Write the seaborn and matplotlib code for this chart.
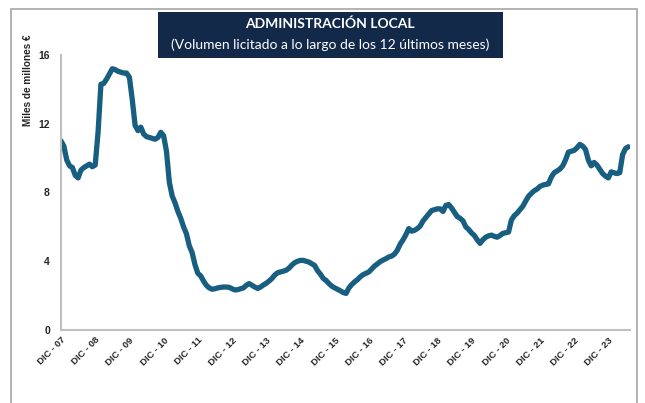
import matplotlib
matplotlib.use("Agg")
import matplotlib.pyplot as plt
import matplotlib.patches as mpatches
import seaborn as sns
import pandas as pd
import numpy as np

# Monthly values (Dec 2007 .. Jul 2024), thousands of millions of euros
values_2008 = [11.0, 10.7, 9.9, 9.55, 9.45, 9.0, 8.85, 9.3, 9.45, 9.55, 9.65, 9.5]
values_2009 = [9.6, 11.5, 14.3, 14.35, 14.6, 14.9, 15.2, 15.15, 15.05, 15.0, 14.95, 14.95]
values_2010 = [14.7, 13.4, 11.9, 11.6, 11.8, 11.4, 11.25, 11.2, 11.15, 11.1, 11.2, 11.5]
values_2011 = [11.3, 10.4, 8.6, 7.8, 7.4, 6.9, 6.5, 6.0, 5.6, 4.9, 4.5, 3.8]
values_2012 = [3.3, 3.15, 2.85, 2.6, 2.45, 2.37, 2.4, 2.45, 2.48, 2.5, 2.5, 2.48]
values_2013 = [2.4, 2.33, 2.35, 2.4, 2.45, 2.6, 2.7, 2.6, 2.5, 2.42, 2.5, 2.62]
values_2014 = [2.72, 2.85, 3.0, 3.2, 3.33, 3.38, 3.42, 3.48, 3.6, 3.78, 3.92, 4.0]
values_2015 = [4.05, 4.05, 4.0, 3.95, 3.85, 3.75, 3.45, 3.25, 3.0, 2.88, 2.7, 2.55]
values_2016 = [2.45, 2.37, 2.28, 2.18, 2.13, 2.45, 2.65, 2.8, 2.93, 3.1, 3.22, 3.3]
values_2017 = [3.38, 3.55, 3.72, 3.85, 3.98, 4.07, 4.15, 4.25, 4.3, 4.42, 4.65, 5.0]
values_2018 = [5.25, 5.55, 5.9, 5.75, 5.8, 5.9, 6.05, 6.35, 6.55, 6.75, 6.95, 7.0]
values_2019 = [7.05, 7.05, 6.9, 7.25, 7.3, 7.1, 6.85, 6.6, 6.5, 6.35, 6.0, 5.85]
values_2020 = [5.65, 5.5, 5.25, 5.04, 5.25, 5.4, 5.48, 5.52, 5.45, 5.4, 5.5, 5.62]
values_2021 = [5.66, 5.7, 6.4, 6.65, 6.8, 7.0, 7.2, 7.5, 7.78, 7.95, 8.1, 8.2]
values_2022 = [8.35, 8.43, 8.47, 8.5, 8.9, 9.15, 9.25, 9.36, 9.55, 9.9, 10.35, 10.4]
values_2023 = [10.45, 10.6, 10.8, 10.7, 10.5, 9.88, 9.55, 9.75, 9.6, 9.35, 9.1, 8.95]
values_2024 = [8.85, 9.2, 9.15, 9.1, 9.15, 10.2, 10.55, 10.66]

tick_labels = ["DIC - 07", "DIC - 08", "DIC - 09", "DIC - 10", "DIC - 11", "DIC - 12",
               "DIC - 13", "DIC - 14", "DIC - 15", "DIC - 16", "DIC - 17", "DIC - 18",
               "DIC - 19", "DIC - 20", "DIC - 21", "DIC - 22", "DIC - 23"]
y_ticks = [0, 4, 8, 12, 16]

title = "ADMINISTRACIÓN LOCAL"
subtitle = "(Volumen licitado a lo largo de los 12 últimos meses)"
ylabel = "Miles de millones €"

values = (values_2008 + values_2009 + values_2010 + values_2011 + values_2012 +
          values_2013 + values_2014 + values_2015 + values_2016 + values_2017 +
          values_2018 + values_2019 + values_2020 + values_2021 + values_2022 +
          values_2023 + values_2024)
df = pd.DataFrame({"mes": np.arange(len(values)), "valor": values})

sns.set_theme(style="white")
plt.rcParams["font.family"] = ["Liberation Sans", "DejaVu Sans"]

W, H = 645, 403
fig = plt.figure(figsize=(W / 100, H / 100), dpi=100)
ax = fig.add_axes([61 / W, 1 - 330 / H, (630 - 61) / W, (330 - 55) / H])

sns.lineplot(data=df, x="mes", y="valor", ax=ax, color="#175e80", linewidth=3.8,
             solid_capstyle="round", solid_joinstyle="round")

ax.set_xlim(0, len(values) - 0.4)
ax.set_ylim(0, 16)
ax.set_yticks(y_ticks)
ax.set_yticklabels([str(t) for t in y_ticks], fontsize=7.5, fontweight="bold")
ax.set_xticks(np.arange(len(tick_labels)) * 12)
ax.set_xticklabels(tick_labels, rotation=45, ha="right", rotation_mode="anchor",
                   fontsize=6.8, fontweight="bold")
ax.tick_params(axis="both", length=0, pad=8)
ax.tick_params(axis="x", pad=4)
ax.set_xlabel("")
ax.set_ylabel("")
for s in ["top", "right"]:
    ax.spines[s].set_visible(False)
for s in ["left", "bottom"]:
    ax.spines[s].set_color("#bfbfbf")
    ax.spines[s].set_linewidth(1.5)

fig.text(28 / W, 1 - 80 / H, ylabel, rotation=90, ha="center", va="center",
         fontsize=7.2, fontweight="bold")

# Outer frame
fig.patches.append(mpatches.Rectangle((11 / W, -0.01), (637 - 11) / W, 1 - 9 / H + 0.01,
                                      transform=fig.transFigure, fill=False,
                                      edgecolor="#a6a6a6", linewidth=1.2))
# Title box
fig.patches.append(mpatches.Rectangle((158 / W, 1 - 58 / H), (503 - 158) / W, (58 - 12) / H,
                                      transform=fig.transFigure, facecolor="#12294a",
                                      edgecolor="none"))
fig.text(330 / W, 1 - 24 / H, title, ha="center", va="center", color="white",
         fontsize=10, fontweight="bold", family=["Lato", "DejaVu Sans"])
fig.text(330 / W, 1 - 45 / H, subtitle, ha="center", va="center", color="white",
         fontsize=10, family=["Lato", "DejaVu Sans"])

fig.savefig("out.png", dpi=100)
